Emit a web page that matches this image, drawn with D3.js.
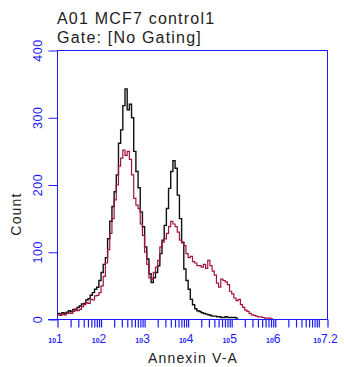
<!DOCTYPE html>
<html><head><meta charset="utf-8">
<script src="https://cdn.jsdelivr.net/npm/d3@7"></script>
<style>body{margin:0;background:#fff}</style>
</head><body><svg id="c" width="344" height="367"></svg>
<script>
const titleLines = ["A01 MCF7 control1", "Gate: [No Gating]"];
const xLabel = "Annexin V-A";
const yLabel = "Count";
const yTicks = [0, 100, 200, 300, 400];
const xLabelExponents = ["1", "2", "3", "4", "5", "6", "7.2"];
const xMajorDecades = [1, 2, 3, 4, 5, 6, 7];
const xMinorMultiples = [2, 3, 4, 5, 6, 7, 8, 9];
const logMin = 1, logMax = 7.2, binLog = 0.05;
// control (black) histogram counts, one per 0.05-decade channel starting at 10^1
const controlCounts = [9,8,10,9,11,13,12,15,14,18, 20,23,24,29,31,36,40,45,48,58,
  70,82,92,120,146,168,190,215,262,282, 318,343,312,320,300,250,220,196,160,138,
  108,90,68,55,62,70,80,98,118,140, 165,195,220,236,225,185,150,115,75,58,
  45,30,22,16,13,12,10,9,8,7, 6,5,5,4,4,3,3,4,3,3, 3,3,2];
// stained (red) histogram counts
const stainedCounts = [7,6,8,7,9,10,9,12,16,13, 15,19,22,25,24,30,29,35,36,40,
  50,64,84,104,128,150,178,200,228,240, 252,244,250,238,215,180,170,165,142,125,
  100,82,62,60,70,78,88,108,115,120, 128,138,146,142,138,130,118,114,110,98,
  92,94,86,84,80,80,78,82,76,88, 80,72,66,54,48,60,58,56,52,42,
  38,32,28,30,22,18,14,12,9,7, 6,5,4,4,3,2,2,2,1];

const blue = "#1a1aff";
const svg = d3.select("#c");
const L = 57.5, R = 327.5, T = 50.5, B = 319.5;
const x = d3.scaleLog().domain([Math.pow(10, logMin), Math.pow(10, logMax)]).range([L, R]);
const y = d3.scaleLinear().domain([0, 400]).range([B, T]);

// titles
svg.selectAll("text.title").data(titleLines).enter().append("text")
  .attr("x", 57).attr("y", (d, i) => 24 + i * 19)
  .attr("font-family", "Liberation Sans, Arial, sans-serif")
  .attr("font-size", 16).attr("letter-spacing", 1.2)
  .attr("fill", "#222").text(d => d);

// frame
svg.append("rect").attr("x", L).attr("y", T).attr("width", R - L).attr("height", B - T)
  .attr("fill", "none").attr("stroke", blue).attr("stroke-width", 1);

// data
function pts(arr) {
  const p = arr.map((v, i) => [Math.pow(10, logMin + i * binLog), v]);
  p.push([Math.pow(10, logMin + arr.length * binLog), arr[arr.length - 1]]);
  return p;
}
const line = d3.line().x(d => x(d[0])).y(d => y(d[1])).curve(d3.curveStepAfter);
svg.append("path").attr("d", line(pts(controlCounts)))
  .attr("fill", "none").attr("stroke", "#111").attr("stroke-width", 1.4);
svg.append("path").attr("d", line(pts(stainedCounts)))
  .attr("fill", "none").attr("stroke", "#a3123f").attr("stroke-width", 1.2);

// y axis
const yAxis = d3.axisLeft(y).tickValues(yTicks).tickSize(9).tickFormat("");
const gy = svg.append("g").attr("transform", `translate(${L},0)`).call(yAxis);
gy.select(".domain").remove();
gy.selectAll("line").attr("stroke", blue);
svg.selectAll("text.yt").data(yTicks).enter().append("text")
  .attr("transform", d => `translate(42,${y(d)}) rotate(-90)`)
  .attr("text-anchor", "middle")
  .attr("font-family", "Liberation Sans, Arial, sans-serif")
  .attr("font-size", 12.5).attr("letter-spacing", 0.6)
  .attr("fill", "#1a1aff").text(d => d);

// x axis ticks
const tickVals = [];
xMajorDecades.forEach(d => tickVals.push(Math.pow(10, d)));
xMajorDecades.slice(0, 6).forEach(d => xMinorMultiples.forEach(m => tickVals.push(m * Math.pow(10, d))));
tickVals.push(Math.pow(10, logMax));
const xAxis = d3.axisBottom(x).tickValues(tickVals).tickSize(8).tickFormat("");
const gx = svg.append("g").attr("transform", `translate(0,${B})`).call(xAxis);
gx.select(".domain").remove();
gx.selectAll("line").attr("stroke", blue).attr("stroke-width", 1.2);
svg.append("line").attr("x1", 48).attr("x2", R).attr("y1", B).attr("y2", B).attr("stroke", blue);

// x tick labels
const lab = svg.selectAll("text.xt").data(xLabelExponents).enter().append("text")
  .attr("x", d => x(Math.pow(10, +d)) - 2).attr("y", 343)
  .attr("text-anchor", "middle")
  .attr("font-family", "Liberation Sans, Arial, sans-serif")
  .attr("fill", "#1a1aff");
lab.append("tspan").attr("font-size", 7).attr("font-weight", "bold").text("10");
lab.append("tspan").attr("font-size", 12).text(d => d);

// axis titles
svg.append("text").attr("x", 193).attr("y", 363).attr("text-anchor", "middle")
  .attr("font-family", "Liberation Sans, Arial, sans-serif")
  .attr("font-size", 14).attr("letter-spacing", 1.2).attr("fill", "#222").text(xLabel);
svg.append("text").attr("transform", "translate(21,214) rotate(-90)").attr("text-anchor", "middle")
  .attr("font-family", "Liberation Sans, Arial, sans-serif")
  .attr("font-size", 14).attr("letter-spacing", 1.2).attr("fill", "#222").text(yLabel);
</script></body></html>
